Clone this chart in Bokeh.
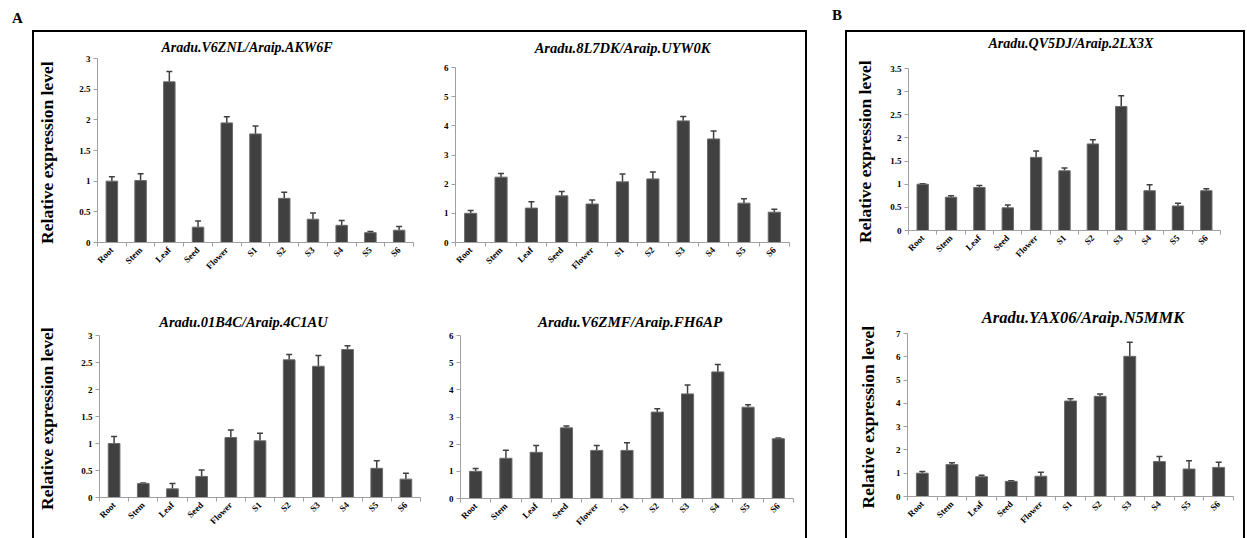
import math
from bokeh.plotting import figure
from bokeh.models import Range1d, FixedTicker, ColumnDataSource, Whisker, TeeHead, Div, Spacer
from bokeh.layouts import row, column
from bokeh.embed import file_html
from bokeh.resources import INLINE

# ---------------- data ----------------
tissues = ["Root", "Stem", "Leaf", "Seed", "Flower", "S1", "S2", "S3", "S4", "S5", "S6"]

title_a1 = "Aradu.V6ZNL/Araip.AKW6F"
vals_a1 = [1.00, 1.01, 2.62, 0.25, 1.95, 1.77, 0.72, 0.38, 0.28, 0.16, 0.20]
errs_a1 = [0.07, 0.11, 0.17, 0.10, 0.10, 0.13, 0.10, 0.10, 0.08, 0.02, 0.06]

title_a2 = "Aradu.8L7DK/Araip.UYW0K"
vals_a2 = [1.00, 2.24, 1.18, 1.60, 1.32, 2.08, 2.18, 4.17, 3.55, 1.35, 1.04]
errs_a2 = [0.10, 0.13, 0.22, 0.15, 0.14, 0.27, 0.24, 0.15, 0.27, 0.15, 0.10]

title_a3 = "Aradu.01B4C/Araip.4C1AU"
vals_a3 = [1.00, 0.26, 0.16, 0.39, 1.11, 1.05, 2.55, 2.43, 2.74, 0.54, 0.34]
errs_a3 = [0.13, 0.01, 0.10, 0.12, 0.14, 0.14, 0.10, 0.20, 0.07, 0.14, 0.11]

title_a4 = "Aradu.V6ZMF/Araip.FH6AP"
vals_a4 = [1.00, 1.48, 1.70, 2.60, 1.77, 1.77, 3.18, 3.85, 4.66, 3.36, 2.20]
errs_a4 = [0.10, 0.30, 0.25, 0.07, 0.18, 0.28, 0.12, 0.33, 0.27, 0.09, 0.03]

title_b1 = "Aradu.QV5DJ/Araip.2LX3X"
vals_b1 = [1.00, 0.72, 0.93, 0.49, 1.58, 1.29, 1.87, 2.68, 0.86, 0.53, 0.86]
errs_b1 = [0.01, 0.03, 0.04, 0.06, 0.14, 0.06, 0.09, 0.23, 0.13, 0.06, 0.04]

title_b2 = "Aradu.YAX06/Araip.N5MMK"
vals_b2 = [1.00, 1.37, 0.85, 0.65, 0.87, 4.10, 4.30, 6.02, 1.50, 1.18, 1.25]
errs_b2 = [0.07, 0.08, 0.06, 0.03, 0.17, 0.10, 0.10, 0.60, 0.22, 0.35, 0.22]

yticks_3 = [0, 0.5, 1, 1.5, 2, 2.5, 3]
ylabels_3 = ["0", "0.5", "1", "1.5", "2", "2.5", "3"]
yticks_6 = [0, 1, 2, 3, 4, 5, 6]
ylabels_6 = ["0", "1", "2", "3", "4", "5", "6"]
yticks_35 = [0, 0.5, 1, 1.5, 2, 2.5, 3, 3.5]
ylabels_35 = ["0", "0.5", "1", "1.5", "2", "2.5", "3", "3.5"]
yticks_7 = [0, 1, 2, 3, 4, 5, 6, 7]
ylabels_7 = ["0", "1", "2", "3", "4", "5", "6", "7"]

y_title = "Relative expression  level"

SERIF = "Liberation Serif"
BAR = "#404040"
AXIS = "#a0a0a0"


def make_chart(vals, errs, yticks, ylabels, w, h, borders, ylabel=None, ylabel_standoff=16):
    l, r, t, b = borders
    n = len(tissues)
    centers = [i + 0.5 for i in range(n)]
    src = ColumnDataSource(dict(x=centers, v=vals, hi=[v + e for v, e in zip(vals, errs)]))
    p = figure(width=w, height=h, x_range=Range1d(0, n), y_range=Range1d(0, yticks[-1]),
               output_backend="svg", toolbar_location=None,
               min_border_left=l, min_border_right=r, min_border_top=t, min_border_bottom=b)
    p.outline_line_color = None
    p.xgrid.visible = False
    p.ygrid.visible = False
    p.background_fill_color = "white"
    p.border_fill_color = None

    p.vbar(x="x", top="v", width=0.4, source=src, fill_color=BAR, line_color="#6a6a6a", line_width=1)
    wh = Whisker(base="x", lower="v", upper="hi", source=src, line_color=BAR, line_width=1.5,
                 upper_head=TeeHead(size=6, line_color=BAR, line_width=1.5), lower_head=None)
    p.add_layout(wh)

    xa = p.xaxis[0]
    xa.ticker = FixedTicker(ticks=centers, minor_ticks=list(range(n + 1)))
    xa.major_label_overrides = {c: s for c, s in zip(centers, tissues)}
    xa.major_tick_line_color = None
    xa.major_tick_out = 3
    xa.major_tick_in = 0
    xa.minor_tick_out = 4
    xa.minor_tick_in = 0
    xa.minor_tick_line_color = AXIS
    xa.axis_line_color = AXIS
    xa.major_label_orientation = math.pi / 4
    xa.major_label_standoff = 2
    xa.major_label_text_font = SERIF
    xa.major_label_text_font_style = "bold"
    xa.major_label_text_font_size = "9px"
    xa.major_label_text_color = "black"

    ya = p.yaxis[0]
    ya.ticker = FixedTicker(ticks=yticks)
    ya.major_label_overrides = {tv: s for tv, s in zip(yticks, ylabels)}
    ya.major_tick_out = 4
    ya.major_tick_in = 0
    ya.minor_tick_line_color = None
    ya.major_tick_line_color = AXIS
    ya.axis_line_color = AXIS
    ya.major_label_standoff = 3
    ya.major_label_text_font = SERIF
    ya.major_label_text_font_style = "bold"
    ya.major_label_text_font_size = "9px"
    ya.major_label_text_color = "black"
    if ylabel:
        ya.axis_label = ylabel
        ya.axis_label_text_font = SERIF
        ya.axis_label_text_font_style = "bold"
        ya.axis_label_text_font_size = "17.5px"
        ya.axis_label_text_color = "black"
        ya.axis_label_standoff = ylabel_standoff
    return p


def title_div(text, w, th, cy, dx, size):
    html = ('<div style="width:%dpx;text-align:center;line-height:%dpx;white-space:nowrap;">'
            '<span style="position:relative;left:%dpx;">%s</span></div>') % (w, 2 * cy, dx, text)
    return Div(text=html, width=w, height=th, margin=0,
               styles={"font-family": SERIF, "font-weight": "bold", "font-style": "italic",
                       "font-size": size, "color": "black", "overflow": "visible"})


f1 = make_chart(vals_a1, errs_a1, yticks_3, ylabels_3, 386, 237, (59, 7, 5, 48), y_title, 19)
f2 = make_chart(vals_a2, errs_a2, yticks_6, ylabels_6, 385, 236, (35, 16, 13, 48))
f3 = make_chart(vals_a3, errs_a3, yticks_3, ylabels_3, 391, 210, (61, 5, 7, 41), y_title, 21)
f4 = make_chart(vals_a4, errs_a4, yticks_6, ylabels_6, 380, 210, (35, 12, 7, 40))
f5 = make_chart(vals_b1, errs_b1, yticks_35, ylabels_35, 396, 218, (61, 23, 16, 40), y_title, 12)
f6 = make_chart(vals_b2, errs_b2, yticks_7, ylabels_7, 396, 212, (60, 10, 7, 42), y_title, 15)

c1 = column(title_div(title_a1, 386, 21, 16, 20, "14px"), f1)
c2 = column(title_div(title_a2, 385, 22, 16, 10, "14.5px"), f2)
c3 = column(title_div(title_a3, 391, 38, 32, 14, "14.5px"), f3)
c4 = column(title_div(title_a4, 380, 38, 32, 15, "15px"), f4)
c5 = column(title_div(title_b1, 396, 20, 12, 26, "14px"), f5)
c6 = column(title_div(title_b2, 396, 56, 48, 38, "16.5px"), f6)


def hline(w):
    return Spacer(width=w, height=2, styles={"background-color": "black"})


def vline(hh):
    return Spacer(width=2, height=hh, styles={"background-color": "black"})


label_css = {"font-family": SERIF, "font-weight": "bold", "font-size": "15px",
             "line-height": "15px", "color": "black"}
lab_a = Div(text="A", width=40, height=30, margin=0, styles=dict(label_css, **{"padding-top": "11px"}))
lab_b = Div(text="B", width=40, height=30, margin=0, styles=dict(label_css, **{"padding-top": "8px"}))
header = row(Spacer(width=12, height=30), lab_a, Spacer(width=780, height=30), lab_b)

grid_a = column(hline(771), row(c1, c2), row(c3, c4))
grid_b = column(hline(396), c5, c6)
body = row(Spacer(width=32, height=508), vline(508), grid_a, vline(508),
           Spacer(width=38, height=508), vline(508), grid_b, vline(508))

root = column(header, body)

open("out.html", "w").write(file_html(root, INLINE))
